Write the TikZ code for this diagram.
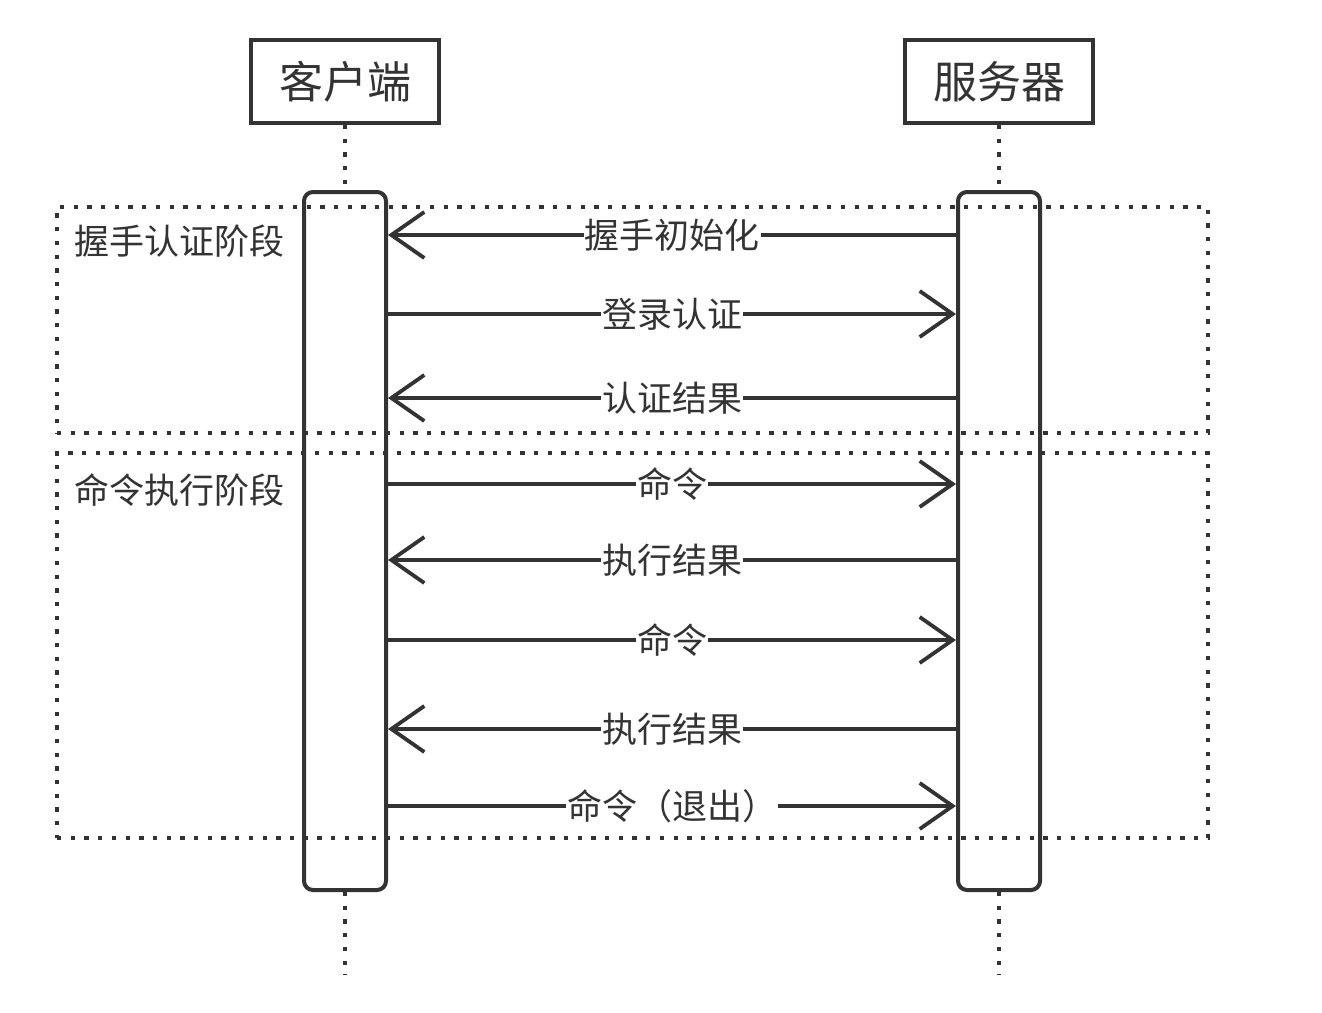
\documentclass[tikz,border=0pt]{standalone}
\usepackage{fontspec}
\newfontfamily\cjk{Noto Sans CJK SC}
\usetikzlibrary{arrows.meta}
\definecolor{ink}{HTML}{333333}
\tikzset{
  actor/.style={draw=ink, line width=4pt, minimum width=188pt, minimum height=83pt, inner sep=0pt, font=\cjk\fontsize{44}{48}\selectfont, text=ink},
  bar/.style={draw=ink, line width=4pt, rounded corners=9pt, fill=white},
  dots/.style={draw=ink, line width=4.3pt, dash pattern=on 4.3pt off 9.4pt},
  msg/.style={draw=ink, line width=3.6pt, -{Straight Barb[length=33pt,width=46pt,line width=3.8pt]}},
  lbl/.style={fill=white, inner sep=1pt, font=\cjk\fontsize{35}{40}\selectfont, text=ink},
  flbl/.style={anchor=west, inner sep=0pt, font=\cjk\fontsize{35}{40}\selectfont, text=ink}
}
\begin{document}
\begin{tikzpicture}[x=1pt,y=-1pt]
\useasboundingbox (0,0) rectangle (1322,1012);
% actors
\node[actor] (client) at (345,81.5) {客户端};
\node[actor] (server) at (999,81.5) {服务器};
% activation bars
\node[bar, minimum width=82pt, minimum height=698pt, inner sep=0pt] (cbar) at (345,541) {};
\node[bar, minimum width=82pt, minimum height=698pt, inner sep=0pt] (sbar) at (999,541) {};
% lifelines
\coordinate (cend) at (345,975);
\coordinate (send) at (999,975);
\draw[dots] (client.south) -- (cbar.north);
\draw[dots] (server.south) -- (sbar.north);
\draw[dots] (cbar.south) -- (cend);
\draw[dots] (sbar.south) -- (send);
% frames
\node[dots, minimum width=1151pt, minimum height=226pt, inner sep=0pt] (f1) at (632.5,320) {};
\node[dots, minimum width=1151pt, minimum height=385pt, inner sep=0pt] (f2) at (632.5,645.5) {};
\node[flbl] (f1l) at (74,241) {握手认证阶段};
\node[flbl] (f2l) at (74,490) {命令执行阶段};
% message end points
\foreach \i/\y in {1/235,2/314,3/398,4/484,5/560,6/640,7/729,8/806}{
  \coordinate (c\i) at (cbar.east |- 0,\y);
  \coordinate (s\i) at (sbar.west |- 0,\y);
}
\draw[msg] (s1) -- node[lbl] (m1) {握手初始化} (c1);
\draw[msg] (c2) -- node[lbl] (m2) {登录认证} (s2);
\draw[msg] (s3) -- node[lbl] (m3) {认证结果} (c3);
\draw[msg] (c4) -- node[lbl] (m4) {命令} (s4);
\draw[msg] (s5) -- node[lbl] (m5) {执行结果} (c5);
\draw[msg] (c6) -- node[lbl] (m6) {命令} (s6);
\draw[msg] (s7) -- node[lbl] (m7) {执行结果} (c7);
\draw[msg] (c8) -- node[lbl] (m8) {命令（退出）} (s8);
\end{tikzpicture}
\end{document}
